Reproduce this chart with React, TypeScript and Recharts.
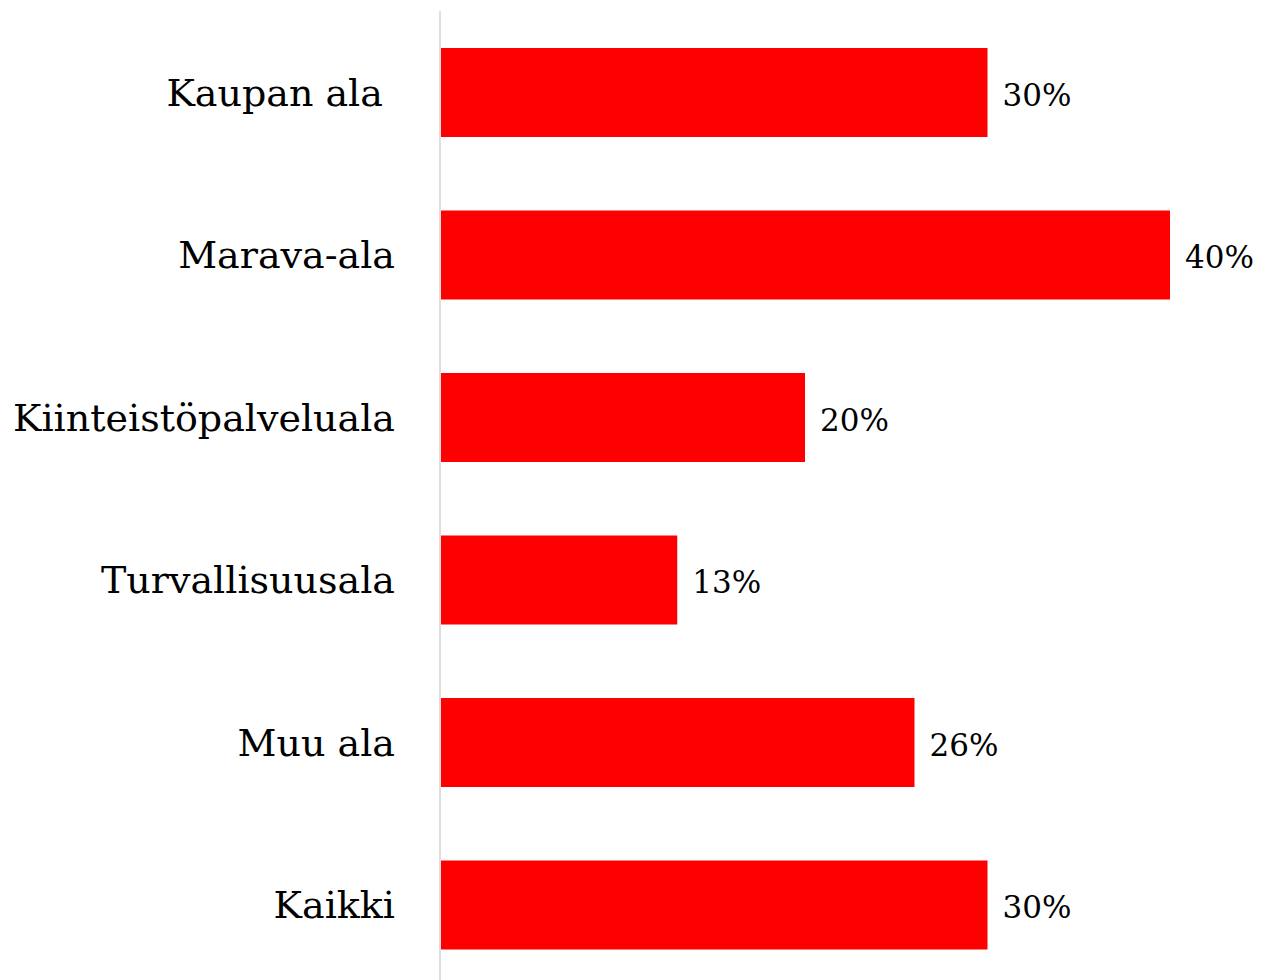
import { BarChart, Bar, XAxis, YAxis, LabelList } from 'recharts';

// Categories top to bottom, share in percent
const categories = ['Kaupan ala\u00A0', 'Marava-ala', 'Kiinteistöpalveluala', 'Turvallisuusala', 'Muu ala', 'Kaikki'];
const shares = [30, 40, 20, 13, 26, 30];

const data = categories.map((name, i) => ({ name, value: shares[i] }));

const FONT = '"DejaVu Serif", "Liberation Serif", serif';

const App = () => {
  return (
    <div style={{ position: 'fixed', top: 0, left: 0, width: 1261, height: 980, overflow: 'hidden', background: '#fff' }}>
      <BarChart
        width={1261}
        height={1000}
        data={data}
        layout="vertical"
        margin={{ top: 11, right: 91, bottom: 14, left: 0 }}
      >
        <XAxis type="number" domain={[0, 40]} hide />
        <YAxis
          type="category"
          dataKey="name"
          width={440}
          tickLine={false}
          tickSize={0}
          tickMargin={45}
          axisLine={{ stroke: '#dedede', strokeWidth: 2 }}
          tick={{ fill: '#000', fontSize: 38, fontFamily: FONT }}
        />
        <Bar dataKey="value" fill="#FF0000" barSize={89} isAnimationActive={false}>
          <LabelList
            dataKey="value"
            position="right"
            offset={15}
            dy={2}
            formatter={(v: any) => `${v}%`}
            style={{ fill: '#000', fontSize: 31, fontFamily: FONT }}
          />
        </Bar>
      </BarChart>
    </div>
  );
};

export default App;
